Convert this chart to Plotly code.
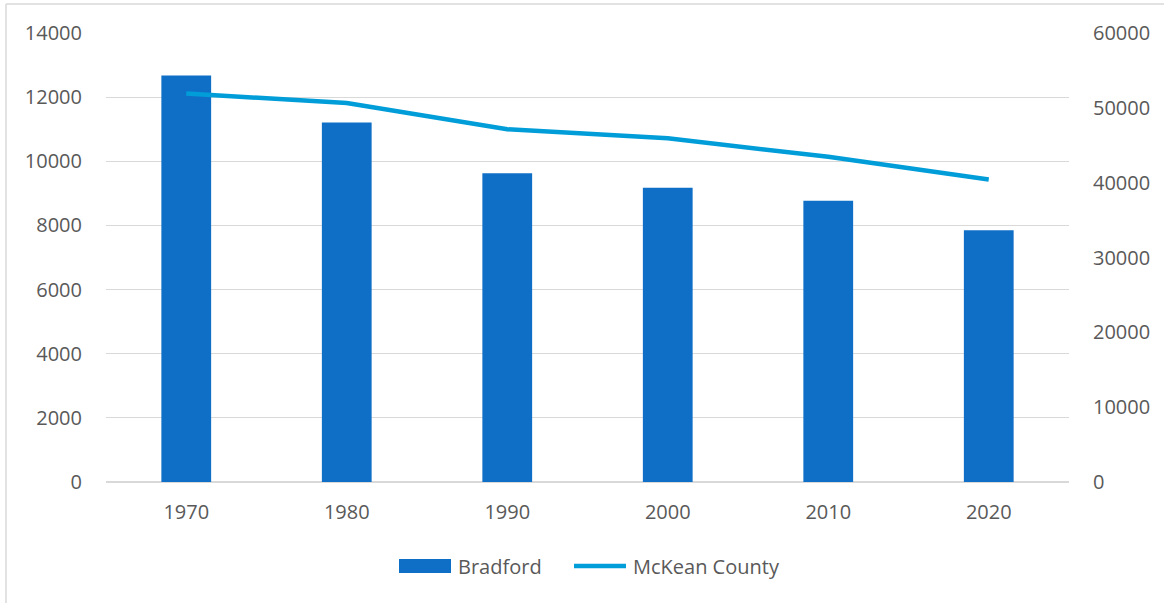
import plotly.graph_objects as go

years = ["1970", "1980", "1990", "2000", "2010", "2020"]
bradford = [12672, 11211, 9625, 9175, 8770, 7849]
mckean = [51915, 50635, 47131, 45936, 43450, 40432]
left_ticks = [0, 2000, 4000, 6000, 8000, 10000, 12000, 14000]
right_ticks = [0, 10000, 20000, 30000, 40000, 50000, 60000]

BAR_COLOR = "#0f6fc6"
LINE_COLOR = "#009dd9"
FAM = "Open Sans, Liberation Sans, sans-serif"
font = dict(family=FAM, size=20, color="#595959")

L, R, T, B = 106, 1069, 33, 482
W, H = R - L, B - T


def px(x):
    return (x - L) / W


def py(y):
    return (B - y) / H


fig = go.Figure()
fig.add_trace(go.Bar(x=years, y=bradford, name="Bradford",
                     marker=dict(color=BAR_COLOR, line=dict(width=0))))
fig.add_trace(go.Scatter(x=years, y=mckean, name="McKean County", mode="lines",
                         line=dict(color=LINE_COLOR, width=4.5), yaxis="y2"))

shapes = [
    # chart border (top and left)
    dict(type="line", xref="paper", yref="paper", x0=px(6), x1=px(1164),
         y0=py(4), y1=py(4), line=dict(color="#d9d9d9", width=1.5)),
    dict(type="line", xref="paper", yref="paper", x0=px(6), x1=px(6),
         y0=py(4), y1=py(603), line=dict(color="#d9d9d9", width=1.5)),
    # legend symbols
    dict(type="rect", xref="paper", yref="paper", x0=px(399), x1=px(451),
         y0=py(573), y1=py(559), fillcolor=BAR_COLOR, line=dict(width=0)),
    dict(type="line", xref="paper", yref="paper", x0=px(574), x1=px(626),
         y0=py(566), y1=py(566), line=dict(color=LINE_COLOR, width=4.5)),
]
annotations = [
    dict(text="Bradford", xref="paper", yref="paper", x=px(456), y=py(566),
         xanchor="left", yanchor="middle", showarrow=False, font=font),
    dict(text="McKean County", xref="paper", yref="paper", x=px(631), y=py(566),
         xanchor="left", yanchor="middle", showarrow=False, font=font),
]

fig.update_layout(
    width=1164, height=603,
    margin=dict(l=L, r=1164 - R, t=T, b=603 - B),
    paper_bgcolor="white", plot_bgcolor="white",
    font=font,
    bargap=0.69,
    showlegend=False,
    xaxis=dict(showgrid=False, showline=False, ticks="", tickfont=font, ticklabelstandoff=16),
    yaxis=dict(range=[0, 14000], tickvals=left_ticks, tickformat="d", showgrid=True,
               gridcolor="#d9d9d9", gridwidth=1.3, zeroline=True, zerolinecolor="#d9d9d9",
               zerolinewidth=1.5, ticks="", tickfont=font, ticklabelstandoff=23, showline=False),
    yaxis2=dict(range=[0, 60000], tickvals=right_ticks, tickformat="d", overlaying="y",
                side="right", showgrid=False, zeroline=False, ticks="", tickfont=font,
                ticklabelstandoff=23, showline=False),
    shapes=shapes,
    annotations=annotations,
)

fig.write_html("out.html")
